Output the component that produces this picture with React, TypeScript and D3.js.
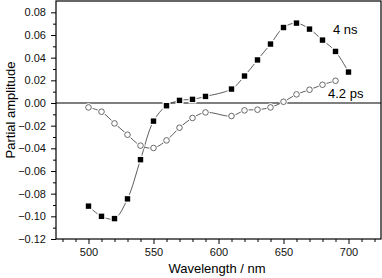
import * as d3 from 'd3';
import React, { useRef, useEffect } from 'react';

const nsWave = [500, 510, 520, 530, 540, 550, 560, 570, 580, 590, 610, 620, 630, 640, 650, 660, 670, 680, 690, 700];
const nsAmp = [-0.091, -0.100, -0.102, -0.0846, -0.050, -0.016, -0.0024, 0.0023, 0.0032, 0.0058, 0.0123, 0.0238, 0.038, 0.052, 0.0666, 0.0705, 0.0652, 0.0555, 0.0455, 0.0273];

const psWave = [500, 510, 520, 530, 540, 550, 560, 570, 580, 590, 610, 620, 630, 640, 650, 660, 670, 680, 690];
const psAmp = [-0.0039, -0.0077, -0.018, -0.028, -0.0376, -0.0397, -0.033, -0.0218, -0.0132, -0.0083, -0.0115, -0.0065, -0.0059, -0.0039, 0.0011, 0.0076, 0.0117, 0.0161, 0.0196];

const xMajor = [500, 550, 600, 650, 700];
const yMajor = [-0.12, -0.10, -0.08, -0.06, -0.04, -0.02, 0.00, 0.02, 0.04, 0.06, 0.08];

export default function App() {
    const ref = useRef(null)

    useEffect(() => {
        document.body.style.margin = '0'
        const W = 382, H = 278
        const margin = { top: 1, right: 1, bottom: 39, left: 56 }
        const width = W - margin.left - margin.right
        const height = H - margin.top - margin.bottom

        d3.select(ref.current).selectAll('*').remove()
        const root = d3.select(ref.current)
            .attr('width', W)
            .attr('height', H)
            .style('font-family', 'Liberation Sans, Arial, sans-serif')
            .style('display', 'block')

        const svg = root.append('g')
            .attr('transform', 'translate(' + margin.left + ',' + margin.top + ')')

        const x = d3.scaleLinear().domain([475, 725]).range([0, width])
        const y = d3.scaleLinear().domain([-0.12, 0.09]).range([height, 0])

        // minor ticks
        const xMinor = d3.range(480, 721, 10).filter(v => !xMajor.includes(v))
        const yMinor = d3.range(-0.11, 0.09, 0.02)

        const xAxis = svg.append('g')
            .attr('transform', `translate(0, ${height})`)
            .call(d3.axisBottom(x).tickValues(xMajor).tickSize(5).tickPadding(4).tickFormat(d3.format('d')))
        xAxis.select('.domain').remove()
        xAxis.selectAll('text').style('font-size', '11px').attr('fill', '#111')
        svg.append('g')
            .attr('transform', `translate(0, ${height})`)
            .call(d3.axisBottom(x).tickValues(xMinor).tickSize(3).tickFormat(() => ''))
            .select('.domain').remove()

        const yAxis = svg.append('g')
            .call(d3.axisLeft(y).tickValues(yMajor).tickSize(5).tickPadding(5).tickFormat(d3.format('.2f')))
        yAxis.select('.domain').remove()
        yAxis.selectAll('text').style('font-size', '11px').attr('fill', '#111')
        svg.append('g')
            .call(d3.axisLeft(y).tickValues(yMinor).tickSize(3).tickFormat(() => ''))
            .select('.domain').remove()

        // frame
        svg.append('rect')
            .attr('x', 0)
            .attr('y', 0)
            .attr('width', width)
            .attr('height', height)
            .attr('fill', 'none')
            .attr('stroke', '#000')
            .attr('stroke-width', 1.2)

        // zero line
        svg.append('line')
            .attr('x1', 0)
            .attr('x2', width)
            .attr('y1', y(0))
            .attr('y2', y(0))
            .attr('stroke', '#000')
            .attr('stroke-width', 1.2)

        const line = d3.line()
            .x(d => x(d[0]))
            .y(d => y(d[1]))
            .curve(d3.curveCatmullRom.alpha(0.5))

        const nsData = nsWave.map((w, i) => [w, nsAmp[i]])
        const psData = psWave.map((w, i) => [w, psAmp[i]])

        svg.append('path')
            .datum(psData)
            .attr('d', line)
            .attr('fill', 'none')
            .attr('stroke', '#333')
            .attr('stroke-width', 0.8)

        svg.append('path')
            .datum(nsData)
            .attr('d', line)
            .attr('fill', 'none')
            .attr('stroke', '#333')
            .attr('stroke-width', 0.8)

        // white gap round the open circles
        svg.selectAll('.psbg')
            .data(psData)
            .enter().append('circle')
            .attr('cx', d => x(d[0]))
            .attr('cy', d => y(d[1]))
            .attr('r', 4.2)
            .attr('fill', '#fff')

        svg.selectAll('.ps')
            .data(psData)
            .enter().append('circle')
            .attr('cx', d => x(d[0]))
            .attr('cy', d => y(d[1]))
            .attr('r', 2.8)
            .attr('fill', '#fff')
            .attr('stroke', '#444')
            .attr('stroke-width', 0.8)

        svg.selectAll('.nsbg')
            .data(nsData)
            .enter().append('rect')
            .attr('x', d => x(d[0]) - 4)
            .attr('y', d => y(d[1]) - 4)
            .attr('width', 8)
            .attr('height', 8)
            .attr('fill', '#fff')

        svg.selectAll('.ns')
            .data(nsData)
            .enter().append('rect')
            .attr('x', d => x(d[0]) - 2.7)
            .attr('y', d => y(d[1]) - 2.7)
            .attr('width', 5.4)
            .attr('height', 5.4)
            .attr('fill', '#000')

        svg.append('text')
            .attr('x', 277)
            .attr('y', 33)
            .style('font-size', '13px')
            .text('4 ns')

        svg.append('text')
            .attr('x', 272)
            .attr('y', 97)
            .style('font-size', '13px')
            .text('4.2 ps')

        root.append('text')
            .attr('x', 217)
            .attr('y', 273)
            .attr('text-anchor', 'middle')
            .style('font-size', '13px')
            .text('Wavelength / nm')

        root.append('text')
            .attr('transform', 'translate(15, 110) rotate(-90)')
            .attr('text-anchor', 'middle')
            .style('font-size', '13px')
            .text('Partial amplitude')
    }, [])

    return (
        <svg ref={ref}></svg>
    )
}
